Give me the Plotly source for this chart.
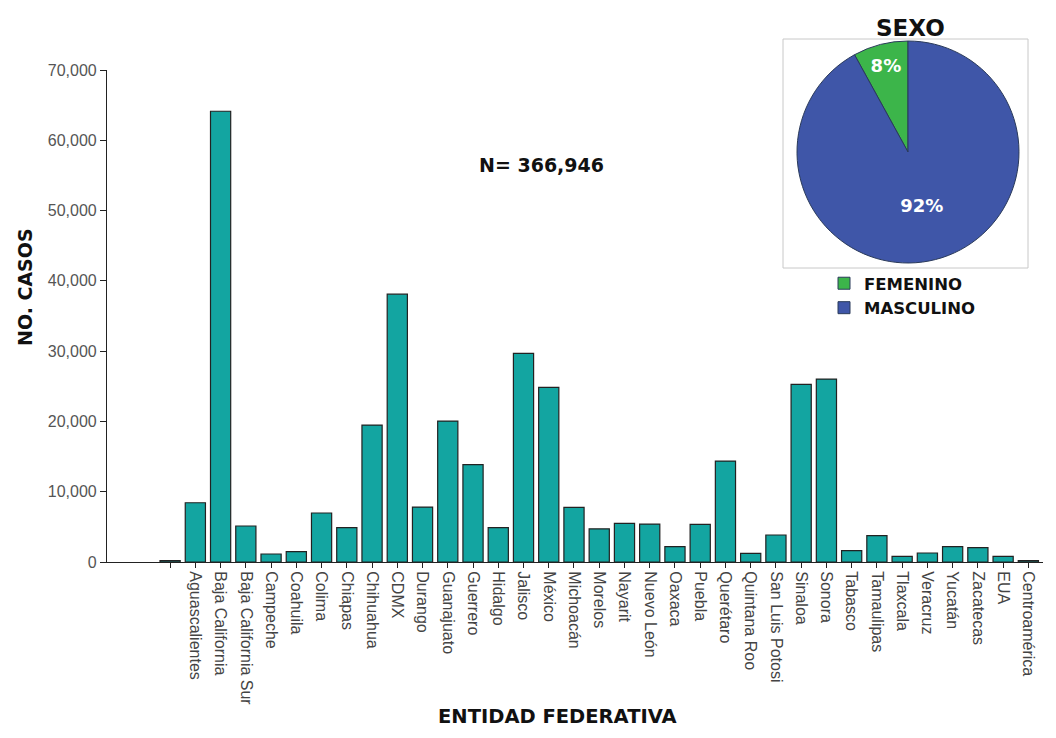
import plotly.graph_objects as go

# ---- data ----
categories = [" ", "Aguascalientes", "Baja California", "Baja California Sur", "Campeche",
              "Coahuila", "Colima", "Chiapas", "Chihuahua", "CDMX", "Durango", "Guanajuato",
              "Guerrero", "Hidalgo", "Jalisco", "México", "Michoacán", "Morelos", "Nayarit",
              "Nuevo León", "Oaxaca", "Puebla", "Querétaro", "Quintana Roo", "San Luis Potosi",
              "Sinaloa", "Sonora", "Tabasco", "Tamaulipas", "Tlaxcala", "Veracruz", "Yucatán",
              "Zacatecas", "EUA", "Centroamérica"]
casos = [200, 8430, 64130, 5120, 1140,
         1470, 6970, 4880, 19480, 38110, 7820, 20050,
         13840, 4880, 29680, 24840, 7780, 4720, 5500,
         5400, 2180, 5360, 14360, 1240, 3840,
         25270, 26020, 1610, 3740, 810, 1280, 2180,
         2050, 810, 200]
y_ticks = [0, 10000, 20000, 30000, 40000, 50000, 60000, 70000]

sexo_labels = ["FEMENINO", "MASCULINO"]
sexo_pct = [8, 92]
total_n = "366,946"

# ---- geometry (page pixels -> paper); the page body has an 8px margin ----
OFF = 8
FW, FH = 1056 - 2 * OFF, 738 - 2 * OFF
P_LEFT, P_RIGHT, P_TOP, P_BOTTOM = 107, 1043, 20, 562   # page coords of paper box
ML = P_LEFT - OFF
MR = FW - (P_RIGHT - OFF)
MT = P_TOP - OFF
MB = FH - (P_BOTTOM - OFF)
PW, PH = P_RIGHT - P_LEFT, P_BOTTOM - P_TOP
def px(x):
    return (x - P_LEFT) / PW
def py(y):
    return (P_BOTTOM - y) / PH

fig = go.Figure()

fig.add_trace(go.Bar(
    x=categories, y=casos,
    marker=dict(color="#13a5a1", line=dict(color="#222222", width=1.2)),
    showlegend=False, hoverinfo="x+y",
))

# first (female) slice ends at 12 o'clock, lying to its left
first_share = sexo_pct[0] / sum(sexo_pct)
fig.add_trace(go.Pie(
    labels=sexo_labels, values=sexo_pct,
    marker=dict(colors=["#3cb54a", "#3f56a8"], line=dict(color="#2a3a5a", width=1)),
    sort=False, direction="clockwise", rotation=-360 * first_share,
    textinfo="percent", textposition="inside", insidetextorientation="horizontal",
    textfont=dict(family="DejaVu Sans", size=18, color="white", weight="bold"),
    domain=dict(x=[px(797), px(1019)], y=[py(263), py(41)]),
    showlegend=True,
))

def note(text, x, y, size, angle=0):
    return dict(text="<b>" + text + "</b>", xref="paper", yref="paper", x=px(x), y=py(y),
                xanchor="center", yanchor="middle", textangle=angle, showarrow=False,
                font=dict(family="DejaVu Sans", size=size, color="#111111"))

fig.update_layout(
    width=FW, height=FH,
    margin=dict(l=ML, r=MR, t=MT, b=MB, autoexpand=False),
    paper_bgcolor="white", plot_bgcolor="white",
    bargap=0.2,
    font=dict(family="Liberation Sans", color="#444444"),
    xaxis=dict(
        type="category", range=[-2.5, 34.58],
        showline=True, linecolor="#222222", linewidth=1.2,
        ticks="outside", ticklen=5, tickcolor="#222222",
        tickangle=90, tickfont=dict(family="Liberation Sans", size=16, color="#444444"),
        showgrid=False, zeroline=False,
    ),
    yaxis=dict(
        domain=[0, py(70)], range=[0, 70000],
        tickvals=y_ticks, tickformat=",",
        showline=True, linecolor="#222222", linewidth=1.2,
        ticks="outside", ticklen=6, tickcolor="#222222",
        tickfont=dict(family="Liberation Sans", size=16, color="#555555"),
        showgrid=False, zeroline=False,
    ),
    legend=dict(
        x=px(824), y=py(266), xanchor="left", yanchor="top",
        font=dict(family="DejaVu Sans", size=16.5, color="#111111", weight="bold"),
        bgcolor="rgba(0,0,0,0)", tracegroupgap=0,
    ),
    shapes=[dict(type="rect", xref="paper", yref="paper",
                 x0=px(783), x1=px(1028), y0=py(268), y1=py(39),
                 line=dict(color="#c8c8c8", width=1), fillcolor="rgba(0,0,0,0)",
                 layer="below")],
    annotations=[
        note("NO. CASOS", 25, 287, 19, -90),
        note("ENTIDAD FEDERATIVA", 557, 716, 19.5),
        note("N= " + total_n, 541, 165, 19),
        note("SEXO", 910, 28, 23),
    ],
)

fig.write_html("out.html")
